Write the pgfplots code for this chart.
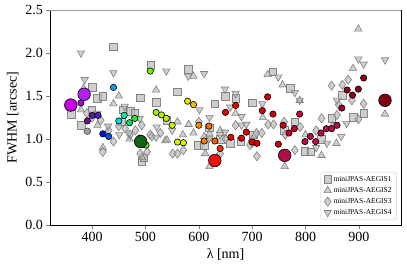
\documentclass[border=0pt]{standalone}
\usepackage{fontspec}
\setmainfont{Liberation Serif}
\usepackage{pgfplots}
\pgfplotsset{compat=1.18}
\pgfplotsset{colormap={wl}{
 rgb255(0pt)=(200,0,230)
 rgb255(30pt)=(150,20,210)
 rgb255(42pt)=(112,16,150)
 rgb255(52pt)=(96,20,170)
 rgb255(62pt)=(80,32,192)
 rgb255(70pt)=(0,16,224)
 rgb255(80pt)=(0,80,240)
 rgb255(90pt)=(16,160,224)
 rgb255(100pt)=(0,224,224)
 rgb255(110pt)=(0,240,176)
 rgb255(120pt)=(0,224,112)
 rgb255(130pt)=(32,240,32)
 rgb255(150pt)=(96,240,0)
 rgb255(170pt)=(160,240,0)
 rgb255(190pt)=(192,240,0)
 rgb255(220pt)=(224,240,0)
 rgb255(230pt)=(240,224,0)
 rgb255(240pt)=(240,192,0)
 rgb255(250pt)=(240,144,0)
 rgb255(270pt)=(240,112,0)
 rgb255(280pt)=(240,96,0)
 rgb255(290pt)=(240,48,0)
 rgb255(300pt)=(240,0,0)
 rgb255(350pt)=(224,0,0)
 rgb255(400pt)=(200,0,16)
 rgb255(450pt)=(192,8,64)
 rgb255(510pt)=(176,16,74)
 rgb255(520pt)=(150,0,40)
 rgb255(600pt)=(128,0,16)
}}
\pgfplotsset{
 gm/.style={only marks, mark options={fill=gray!55, draw=gray!90!black, fill opacity=0.7, draw opacity=0.85, line width=0.6pt}},
 gmd/.style={only marks, mark options={fill=gray!55, draw=gray!90!black, fill opacity=0.7, draw opacity=0.85, line width=0.6pt, rotate=180}},
}
\begin{document}
\begin{tikzpicture}
\begin{axis}[
 scale only axis, width=351pt, height=215pt,
 xmin=321, xmax=979, ymin=0, ymax=2.5,
 xtick={400,500,...,900}, ytick={0,0.5,...,2.5},
 yticklabel style={/pgf/number format/.cd, fixed, fixed zerofill, precision=1},
 xticklabel style={/pgf/number format/.cd, fixed, 1000 sep={}},
 /pgf/number format/assume math mode=true,
 tick label style={font=\fontsize{14}{16}\selectfont},
 label style={font=\fontsize{14}{16}\selectfont},
 xlabel={λ [nm]}, ylabel={FWHM [arcsec]},
 tick align=outside, tick pos=left, major tick length=3.5pt,
 axis line style={black, line width=0.7pt},
 colormap name=wl, point meta min=350, point meta max=950,
 legend style={at={(0.988,0.023)}, anchor=south east, font=\fontsize{7.5}{9}\selectfont, draw=gray!35, rounded corners=2pt, row sep=0.6pt, inner xsep=3pt, inner ysep=2pt},
 legend cell align=left,
]
% miniJPAS-AEGIS1 squares
\addplot[gm, mark=square*, mark size=3.8pt] table {
x y
361 1.29
380 1.16
399 1.34
400 1.60
410 1.47
420 1.50
440 2.07
455 1.20
458 1.34
472 1.32
480 1.30
490 1.48
493 0.74
497 0.78
510 1.86
520 1.43
540 1.22
560 1.55
580 1.81
599 0.93
610 0.92
620 1.13
630 1.41
640 1.00
650 1.50
659 0.95
669 1.47
679 0.97
700 1.42
702 1.05
739 1.78
760 1.10
771 1.59
780 1.20
799 0.86
810 0.85
830 1.00
849 1.24
869 1.51
890 1.25
909 1.30
};
\addlegendentry{miniJPAS-AEGIS1}
% miniJPAS-AEGIS2 triangles
\addplot[gm, mark=triangle*, mark size=4.3pt] table {
x y
379 1.34
384 1.59
410 1.16
420 0.90
440 1.41
450 1.50
470 1.00
493 0.79
520 1.57
537 0.98
540 0.99
560 1.20
570 1.05
581 1.17
590 1.73
590 1.07
610 1.03
612 0.83
620 0.68
640 1.10
669 1.30
700 1.00
720 1.25
729 1.75
757 1.63
761 0.68
789 1.45
800 1.05
830 0.81
850 1.15
858 0.95
889 1.82
899 2.28
949 1.29
};
\addlegendentry{miniJPAS-AEGIS2}
% miniJPAS-AEGIS3 diamonds
\addplot[gm, mark=diamond*, mark size=4.6pt] table {
x y
390 1.30
400 1.25
416 1.22
420 0.85
431 1.10
440 0.97
450 1.15
462 1.12
471 1.05
481 1.10
490 0.83
493 1.16
503 0.85
509 1.05
512 1.03
528 1.07
551 0.83
560 0.83
571 0.87
600 1.20
620 1.05
640 0.83
650 1.00
669 1.16
696 0.93
708 1.07
709 0.80
718 1.07
730 1.17
740 1.17
760 1.20
762 1.05
780 0.87
790 1.14
820 1.10
830 1.24
849 1.62
859 1.28
862 1.40
869 1.63
880 1.69
887 1.45
899 1.23
909 1.41
};
\addlegendentry{miniJPAS-AEGIS3}
% miniJPAS-AEGIS4 down triangles
\addplot[gmd, mark=triangle*, mark size=4.3pt] table {
x y
379 2.00
386 1.69
410 1.30
430 1.15
440 1.77
451 1.05
461 1.38
470 1.07
489 1.24
520 1.02
521 1.14
539 1.79
550 1.10
580 1.73
601 1.34
610 1.76
620 1.01
620 1.25
640 1.05
649 1.58
649 1.08
659 1.37
669 1.53
680 1.26
680 1.16
689 1.17
700 0.95
719 1.41
749 1.72
780 1.54
789 1.45
820 0.90
840 0.95
859 1.45
867 1.03
877 1.18
899 1.93
909 1.87
949 1.92
};
\addlegendentry{miniJPAS-AEGIS4}
% gray circle
\addplot[only marks, mark=*, mark size=3.3pt, mark options={fill=gray!75, draw=gray!60!black, line width=0.6pt}, forget plot] coordinates {(391,1.09)};
% coloured circles
\addplot[scatter, only marks, mark=*, mark size=3.2pt, point meta=explicit,
 scatter/use mapped color={draw=black, fill=mapped color}, mark options={line width=0.6pt}, forget plot]
 table[meta=c] {
x y c
379 1.42 379
391 1.21 391
400 1.275 400
411 1.275 411
420 1.06 420
431 1.03 431
440 1.60 440
450 1.21 450
460 1.275 460
470 1.19 470
480 1.24 480
490 1.01 490
501 0.93 501
509 1.79 505
520 1.31 520
530 1.28 530
539 1.24 539
550 1.16 550
560 0.965 560
571 0.957 571
579 1.44 579
590 1.40 590
600 1.16 600
610 0.977 610
619 1.15 619
630 0.977 630
640 0.89 640
650 1.31 650
660 1.02 660
669 1.39 669
680 1.01 680
689 1.08 689
700 0.965 700
709 0.95 709
719 1.33 719
729 1.49 729
739 1.29 739
749 0.94 749
758 1.16 758
769 1.07 769
779 1.12 779
789 1.29 789
799 0.97 799
809 1.03 809
819 0.97 819
829 1.07 829
839 1.12 839
849 1.12 849
859 1.16 859
868 1.36 868
878 1.57 878
888 1.51 888
899 1.58 899
909 1.71 909
};
% big circles
\addplot[only marks, mark=*, mark size=6.3pt, mark options={fill={rgb,255:red,200;green,0;blue,230}, draw=black, line width=0.6pt}, forget plot] coordinates {(360,1.395)};
\addplot[only marks, mark=*, mark size=6.3pt, mark options={fill={rgb,255:red,176;green,32;blue,240}, draw=black, line width=0.6pt}, forget plot] coordinates {(385,1.52)};
\addplot[only marks, mark=*, mark size=6.3pt, mark options={fill={rgb,255:red,20;green,100;blue,20}, draw=black, line width=0.6pt}, forget plot] coordinates {(491,0.97)};
\addplot[only marks, mark=*, mark size=6.3pt, mark options={fill={rgb,255:red,240;green,16;blue,16}, draw=black, line width=0.6pt}, forget plot] coordinates {(630,0.75)};
\addplot[only marks, mark=*, mark size=6.3pt, mark options={fill={rgb,255:red,176;green,16;blue,74}, draw=black, line width=0.6pt}, forget plot] coordinates {(761,0.81)};
\addplot[only marks, mark=*, mark size=6.3pt, mark options={fill={rgb,255:red,128;green,0;blue,16}, draw=black, line width=0.6pt}, forget plot] coordinates {(949,1.45)};
\draw[gray!75, line width=1.6pt] (rel axis cs:0,1) -- (rel axis cs:1,1);
\end{axis}
\path (-50pt,-44pt) rectangle (357pt,225pt);
\end{tikzpicture}
\end{document}
